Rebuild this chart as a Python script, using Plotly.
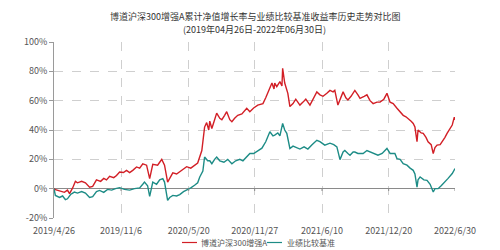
import pandas as pd
import plotly.graph_objects as go

START = "2019-04-26"
title_line1 = "博道沪深300增强A累计净值增长率与业绩比较基准收益率历史走势对比图"
title_line2 = "(2019年04月26日-2022年06月30日)"
fund_name = "博道沪深300增强A"
bench_name = "业绩比较基准"
tick_dates = ["2019-04-26", "2019-11-06", "2020-05-20", "2020-11-27", "2021-06-10", "2021-12-20", "2022-06-30"]
tick_labels = ["2019/4/26", "2019/11/6", "2020/5/20", "2020/11/27", "2021/6/10", "2021/12/20", "2022/6/30"]
y_ticks = [-20, 0, 20, 40, 60, 80, 100]
y_labels = ["-20%", "0%", "20%", "40%", "60%", "80%", "100%"]

# days since 2019-04-26, cumulative return (%)
fund_days = [0, 4, 16, 30, 39, 45, 54, 62, 68, 80, 91, 103, 112, 123, 135, 144, 152, 161, 173, 181, 190,
             201, 210, 219, 228, 239, 248, 257, 268, 277, 286, 300, 306, 312, 320, 329, 335, 344, 355, 364,
             375, 384, 396, 407, 416, 428, 436, 442, 448, 451, 457, 465, 471, 480, 486, 494, 500, 509, 515,
             523, 532, 544, 558, 567, 578, 590, 605, 613, 619, 631, 637, 639, 645, 654, 660, 662, 668, 677,
             683, 692, 700, 712, 721, 729, 741, 752, 761, 770, 779, 790, 799, 808, 813, 822, 831, 837, 845,
             851, 860, 871, 880, 886, 898, 906, 915, 924, 935, 944, 955, 964, 973, 982, 993, 1002, 1011, 1019,
             1025, 1034, 1040, 1045, 1051, 1054, 1063, 1069, 1077, 1083, 1092, 1098, 1103, 1109, 1118, 1124,
             1132, 1138, 1147, 1153, 1159, 1161]
fund_vals = [0, -0.7, -1.5, -2.5, -1.0, -3.4, 0.5, 5, 4, 5, 4, 1, 1.5, 6, 5, 7, 6, 8.4, 7.5, 9, 11.4,
             11, 12.5, 11, 12.5, 14.8, 14, 17, 16, 6.8, 16.6, 16, 18, 20, 16, 4.5, 7, 10.8, 10, 11.5,
             13.5, 15, 14, 16, 17.5, 26, 42, 45, 40, 46, 41, 47, 51.5, 48, 47, 50, 52.5, 47, 45.6,
             48, 50, 51, 54.8, 52.5, 55, 57, 58, 62, 65, 72, 68, 72, 69.6, 73, 70, 82, 72, 65,
             56, 58, 61, 57, 59, 61, 57, 62, 66, 64, 63, 65, 67, 66, 67, 57, 63, 66, 62,
             60.5, 63, 67, 64, 61.6, 63, 64, 60, 58, 59, 59, 61, 65, 59, 58, 54.8, 52, 50, 49,
             48, 46, 44.5, 42, 32, 40, 38, 37.7, 35, 32, 30, 24, 28, 29.7, 30, 32,
             35, 37.7, 41, 43.4, 48.8, 47]

bench_days = [0, 4, 16, 25, 33, 39, 48, 59, 68, 80, 91, 103, 112, 123, 132, 144, 155, 167, 178, 190,
              204, 219, 233, 248, 257, 262, 271, 277, 286, 297, 306, 315, 320, 329, 335, 344, 355, 364,
              375, 384, 396, 407, 416, 422, 431, 436, 445, 451, 457, 465, 471, 480, 492, 503, 515, 526,
              538, 547, 558, 567, 578, 590, 602, 613, 625, 634, 639, 648, 654, 662, 668, 674, 683, 692,
              700, 712, 724, 735, 747, 761, 770, 784, 799, 810, 819, 828, 837, 842, 851, 857, 866, 871,
              880, 895, 906, 915, 927, 938, 950, 964, 973, 987, 993, 1002, 1011, 1022, 1031, 1040, 1045,
              1051, 1054, 1060, 1071, 1080, 1089, 1098, 1103, 1112, 1121, 1132, 1141, 1153, 1161]
bench_vals = [0, -4.6, -6, -5, -7.5, -6.9, -4, -2.3, -3, -2, -3, -6, -5.5, -2, -1.2, -2.5, -0.5, -1, 0, 0.7,
              -0.5, -1, 0, 0.5, 3, 4.5, 2, -5.3, 4.5, 3, 6, 6.8, 4.5, -8, -6, -4.6, -5, -4,
              -2, -1, 0.5, 2.3, 4, 8, 12, 21.6, 19, 19, 17, 20, 21.6, 19, 18, 20, 17, 19,
              20, 19, 21.6, 24, 24, 26, 27.6, 32, 38.8, 36, 36.5, 38, 36, 44.5, 40, 37.7, 27.4, 29,
              28, 27, 28.5, 27, 30, 33, 32, 29.7, 31, 30, 28.5, 19.8, 25, 26, 24, 22.8, 25, 25,
              24, 24, 26, 25, 24, 22.8, 24, 27.4, 24, 24, 20.5, 20, 17, 16, 14, 12.5, 10,
              1, 6, 8, 6, 5.7, 3, -2.3, 0, 0, 2, 4.5, 7, 10.3, 13.7]

start = pd.Timestamp(START)
fund_x = start + pd.to_timedelta(fund_days, unit="D")
bench_x = start + pd.to_timedelta(bench_days, unit="D")

RED = "#d21f26"
TEAL = "#1d8c86"
GRID = "#cfcfcf"
TXT = "#444444"
FONT = "Noto Sans CJK SC"

fig = go.Figure()
fig.add_trace(go.Scatter(x=fund_x, y=fund_vals, mode="lines", name=fund_name,
                         line=dict(color=RED, width=1.4), showlegend=False))
fig.add_trace(go.Scatter(x=bench_x, y=bench_vals, mode="lines", name=bench_name,
                         line=dict(color=TEAL, width=1.4), showlegend=False))

fig.update_layout(
    width=500, height=250,
    margin=dict(l=54, r=45, t=42, b=32),
    paper_bgcolor="white", plot_bgcolor="white",
    font=dict(family=FONT, size=9, color=TXT),
)
fig.update_xaxes(
    type="date",
    range=[tick_dates[0], tick_dates[-1]],
    tickmode="array", tickvals=tick_dates, ticktext=tick_labels,
    showgrid=True, gridcolor=GRID, griddash="dash", gridwidth=1,
    showline=False, zeroline=False, ticks="",
    ticklabelstandoff=6,
    tickfont=dict(family=FONT, size=9, color="#555555"),
)
fig.update_yaxes(
    range=[-20, 100],
    tickmode="array", tickvals=y_ticks, ticktext=y_labels,
    showgrid=True, gridcolor=GRID, griddash="dash", gridwidth=1,
    zeroline=True, zerolinecolor="#8a8a8a", zerolinewidth=1,
    showline=True, linecolor="#9a9a9a", linewidth=1,
    ticks="outside", ticklen=4, tickcolor="#9a9a9a",
    tickfont=dict(family=FONT, size=9, color="#555555"),
)

# small tick marks below the zero line at each x tick
for d in tick_dates[1:]:
    fig.add_shape(type="line", xref="x", yref="y", x0=d, x1=d, y0=0, y1=-1.6,
                  line=dict(color="#8a8a8a", width=1))

# title
fig.add_annotation(text=title_line1, xref="paper", yref="paper", x=0.5, y=1, yshift=26,
                   showarrow=False, font=dict(family=FONT, size=9, color="#333333"),
                   xanchor="center", yanchor="middle")
fig.add_annotation(text=title_line2, xref="paper", yref="paper", x=0.5, y=1, yshift=13,
                   showarrow=False, font=dict(family=FONT, size=9, color="#333333"),
                   xanchor="center", yanchor="middle")

# custom legend (compact line samples)
legend_items = [(fund_name, RED, 182, 197, 199), (bench_name, TEAL, 267, 282, 285)]
for name, color, lx0, lx1, tx in legend_items:
    fig.add_shape(type="line", xref="paper", yref="paper",
                  x0=(lx0 - 54) / 401, x1=(lx1 - 54) / 401,
                  y0=-(242.5 - 218) / 176, y1=-(242.5 - 218) / 176,
                  line=dict(color=color, width=1.2))
    fig.add_annotation(text=name, xref="paper", yref="paper",
                       x=(tx - 54) / 401, y=-(242.5 - 218) / 176,
                       showarrow=False, xanchor="left", yanchor="middle",
                       font=dict(family=FONT, size=8, color="#555555"))

fig.write_html("out.html")
